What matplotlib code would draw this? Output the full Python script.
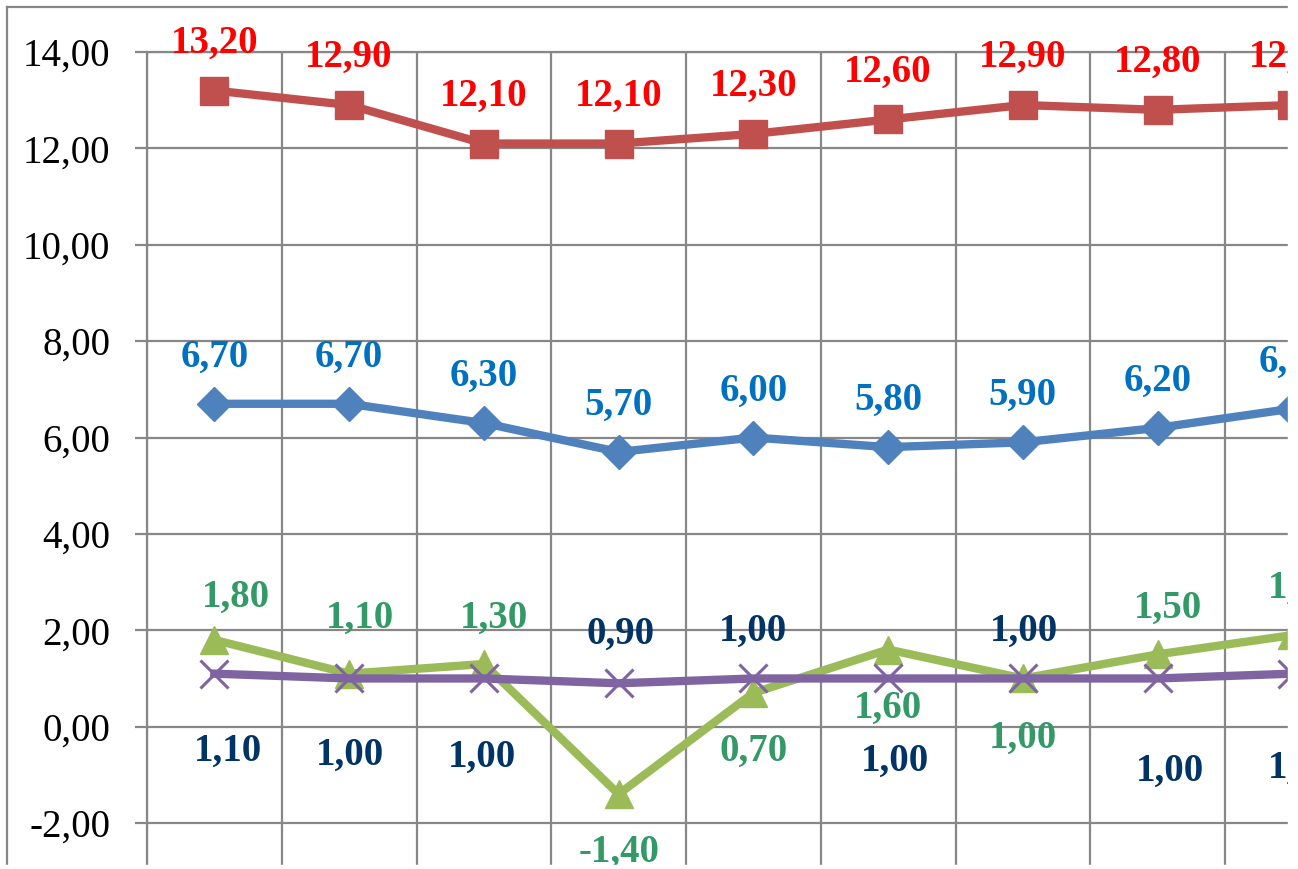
import matplotlib.pyplot as plt
from matplotlib.lines import Line2D
from matplotlib.patches import Rectangle
from matplotlib.ticker import FuncFormatter, MultipleLocator

W, H = 1298, 869

# series values, one per category (the chart is cropped on the right)
blue_vals = [6.7, 6.7, 6.3, 5.7, 6.0, 5.8, 5.9, 6.2, 6.6]
red_vals = [13.2, 12.9, 12.1, 12.1, 12.3, 12.6, 12.9, 12.8, 12.9]
green_vals = [1.8, 1.1, 1.3, -1.4, 0.7, 1.6, 1.0, 1.5, 1.9]
purple_vals = [1.1, 1.0, 1.0, 0.9, 1.0, 1.0, 1.0, 1.0, 1.1]
y_ticks = [-2, 0, 2, 4, 6, 8, 10, 12, 14]

# label offsets in pixels (label centre relative to the point)
blue_off = [(0, 50)] * 9
red_off = [(0, 51)] * 9
green_off = [(22, 46), (11, 59), (10, 49), (0, -55), (0, -55),
             (0, -55), (0, -56), (10, 50), (10, 50)]
purple_off = [(14, -74), (1, -73), (-2, -75), (2, 52), (0, 51),
              (7, -79), (1, 51), (12, -89), (10, -91)]

grid_col = "#878787"
serif = "Liberation Serif"

fig = plt.figure(figsize=(W / 100, H / 100), dpi=100)
ax = fig.add_axes([147 / W, (H - 865) / H, (1288 - 147) / W, (865 - 52) / H])

step = 134.75
ax.set_xlim(-0.5, -0.5 + (1288 - 147) / step)
ax.set_ylim(14 - (865 - 52) / 48.19, 14)

ax.set_yticks(y_ticks)
ax.yaxis.set_major_formatter(FuncFormatter(lambda v, p: f"{v:.2f}".replace(".", ",")))
ax.set_xticks([])
ax.xaxis.set_minor_locator(MultipleLocator(1, offset=0.5))
ax.grid(True, which="major", axis="y", color=grid_col, lw=1.6)
ax.grid(True, which="minor", axis="x", color=grid_col, lw=1.6)
ax.tick_params(axis="y", direction="out", length=8.6, width=1.6, color=grid_col,
               pad=18, labelsize=28)
ax.tick_params(axis="x", which="minor", length=0)
for lbl in ax.get_yticklabels():
    lbl.set_fontfamily(serif)
for s in ["right", "bottom"]:
    ax.spines[s].set_visible(False)
for s in ["left", "top"]:
    ax.spines[s].set_color(grid_col)
    ax.spines[s].set_linewidth(1.6)
ax.set_axisbelow(True)

x = list(range(len(blue_vals)))
series = [
    (blue_vals, "#4F81BD", "D", 17, "#0070C0", blue_off),
    (red_vals, "#C0504D", "s", 20, "#FF0000", red_off),
    (green_vals, "#9BBB59", "^", 20, "#339966", green_off),
    (purple_vals, "#8064A2", "x", 20, "#003366", purple_off),
]
for vals, col, mk, ms, lcol, offs in series:
    if mk == "x":
        ax.plot(x, vals, color=col, lw=6, marker=mk, ms=ms, mew=2.2, mec=col)
    else:
        ax.plot(x, vals, color=col, lw=6, marker=mk, ms=ms, mfc=col, mec=col)
for vals, col, mk, ms, lcol, offs in series:
    for xi, v, (dx, dy) in zip(x, vals, offs):
        ax.annotate(f"{v:.2f}".replace(".", ","), (xi, v), xytext=(dx, dy - 13),
                    textcoords="offset pixels", ha="center", va="baseline",
                    fontsize=28, fontweight="bold", family=serif, color=lcol,
                    annotation_clip=False, zorder=5)

# outer chart border and crop mask
fig.add_artist(Line2D([7 / W, 7 / W], [0, 1 - 7 / H], color=grid_col, lw=1.6))
fig.add_artist(Line2D([7 / W, 1], [1 - 7 / H, 1 - 7 / H], color=grid_col, lw=1.6))
fig.add_artist(Rectangle((1288 / W, 0), 1, 1, transform=fig.transFigure,
                         color="white", zorder=20))
fig.add_artist(Rectangle((0, 0), 1, (H - 865) / H, transform=fig.transFigure,
                         color="white", zorder=20))

fig.savefig("out.png", dpi=100)
